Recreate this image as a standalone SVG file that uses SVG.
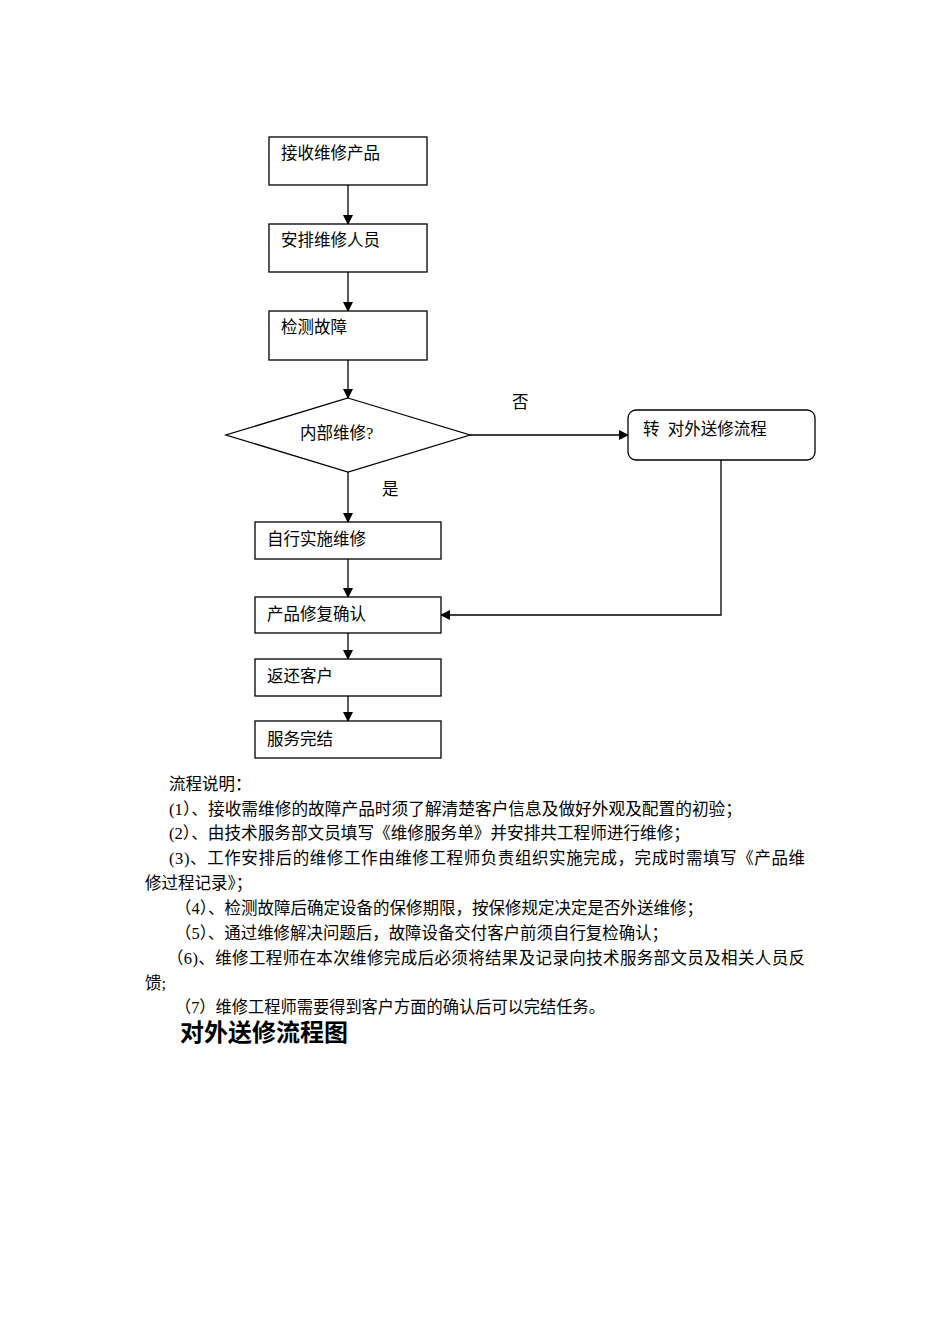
<svg xmlns="http://www.w3.org/2000/svg" width="950" height="1344" viewBox="0 0 950 1344">
<style>
.b{fill:#fff;stroke:#000;stroke-width:1.3}
.t{font-family:"Liberation Serif","Noto Sans CJK SC",serif;font-size:16.5px;fill:#000;dominant-baseline:central}
.p{font-family:"Liberation Serif","Noto Sans CJK SC",serif;font-size:16.5px;fill:#000;dominant-baseline:central}
.h{font-family:"Liberation Serif","Noto Sans CJK SC",serif;font-size:24px;font-weight:bold;fill:#000;dominant-baseline:central}
.c{fill:none;stroke:#000;stroke-width:1.3}
</style>
<defs>
<marker id="a" markerWidth="10" markerHeight="10" refX="9" refY="5" orient="auto" markerUnits="userSpaceOnUse">
<path d="M0,0 L10,5 L0,10 Z" fill="#000"/>
</marker>
</defs>
<rect width="950" height="1344" fill="#fff"/>
<g id="connectors">
<line class="c" x1="348" y1="185" x2="348" y2="224" marker-end="url(#a)"/>
<line class="c" x1="348" y1="272" x2="348" y2="311" marker-end="url(#a)"/>
<line class="c" x1="348" y1="360" x2="348" y2="398" marker-end="url(#a)"/>
<line class="c" x1="470" y1="435" x2="628" y2="435" marker-end="url(#a)"/>
<line class="c" x1="348" y1="472" x2="348" y2="522" marker-end="url(#a)"/>
<line class="c" x1="348" y1="559" x2="348" y2="597" marker-end="url(#a)"/>
<polyline class="c" points="721,460 721,615 441,615" marker-end="url(#a)"/>
<line class="c" x1="348" y1="633" x2="348" y2="659" marker-end="url(#a)"/>
<line class="c" x1="348" y1="696" x2="348" y2="721" marker-end="url(#a)"/>
<text class="t" x="512" y="402">否</text>
<text class="t" x="382" y="489">是</text>
</g>
<g id="n1"><rect class="b" x="269" y="137" width="158" height="48"/><text class="t" x="281" y="153">接收维修产品</text></g>
<g id="n2"><rect class="b" x="269" y="224" width="158" height="48"/><text class="t" x="281" y="240">安排维修人员</text></g>
<g id="n3"><rect class="b" x="269" y="311" width="158" height="49"/><text class="t" x="281" y="327">检测故障</text></g>
<g id="n4"><polygon class="b" points="348,398 470,435 348,472 226,435"/><text class="t" x="300" y="433">内部维修?</text></g>
<g id="n5"><rect class="b" x="628" y="410" width="187" height="50" rx="8"/><text class="t" x="643" y="429" xml:space="preserve">转  对外送修流程</text></g>
<g id="n6"><rect class="b" x="255" y="522" width="186" height="37"/><text class="t" x="267" y="539">自行实施维修</text></g>
<g id="n7"><rect class="b" x="255" y="597" width="186" height="36"/><text class="t" x="267" y="614">产品修复确认</text></g>
<g id="n8"><rect class="b" x="255" y="659" width="186" height="37"/><text class="t" x="267" y="676">返还客户</text></g>
<g id="n9"><rect class="b" x="255" y="721" width="186" height="37"/><text class="t" x="267" y="739">服务完结</text></g>
<g id="notes">
<text class="p" x="169" y="784">流程说明：</text>
<text class="p" x="169" y="809" textLength="573" lengthAdjust="spacingAndGlyphs">(1）、接收需维修的故障产品时须了解清楚客户信息及做好外观及配置的初验；</text>
<text class="p" x="169" y="833" textLength="521" lengthAdjust="spacingAndGlyphs">(2）、由技术服务部文员填写《维修服务单》并安排共工程师进行维修；</text>
<text class="p" x="169" y="858" textLength="636" lengthAdjust="spacing">(3)、工作安排后的维修工作由维修工程师负责组织实施完成，完成时需填写《产品维</text>
<text class="p" x="145" y="883">修过程记录》；</text>
<text class="p" x="175" y="908" textLength="528" lengthAdjust="spacingAndGlyphs">（4）、检测故障后确定设备的保修期限，按保修规定决定是否外送维修；</text>
<text class="p" x="175" y="933" textLength="493" lengthAdjust="spacingAndGlyphs">（5）、通过维修解决问题后，故障设备交付客户前须自行复检确认；</text>
<text class="p" x="167" y="958" textLength="638" lengthAdjust="spacing">（6)、维修工程师在本次维修完成后必须将结果及记录向技术服务部文员及相关人员反</text>
<text class="p" x="145" y="983">馈;</text>
<text class="p" x="175" y="1007" textLength="430" lengthAdjust="spacingAndGlyphs">（7）维修工程师需要得到客户方面的确认后可以完结任务。</text>
<text class="h" x="180" y="1033">对外送修流程图</text>
</g>
</svg>
